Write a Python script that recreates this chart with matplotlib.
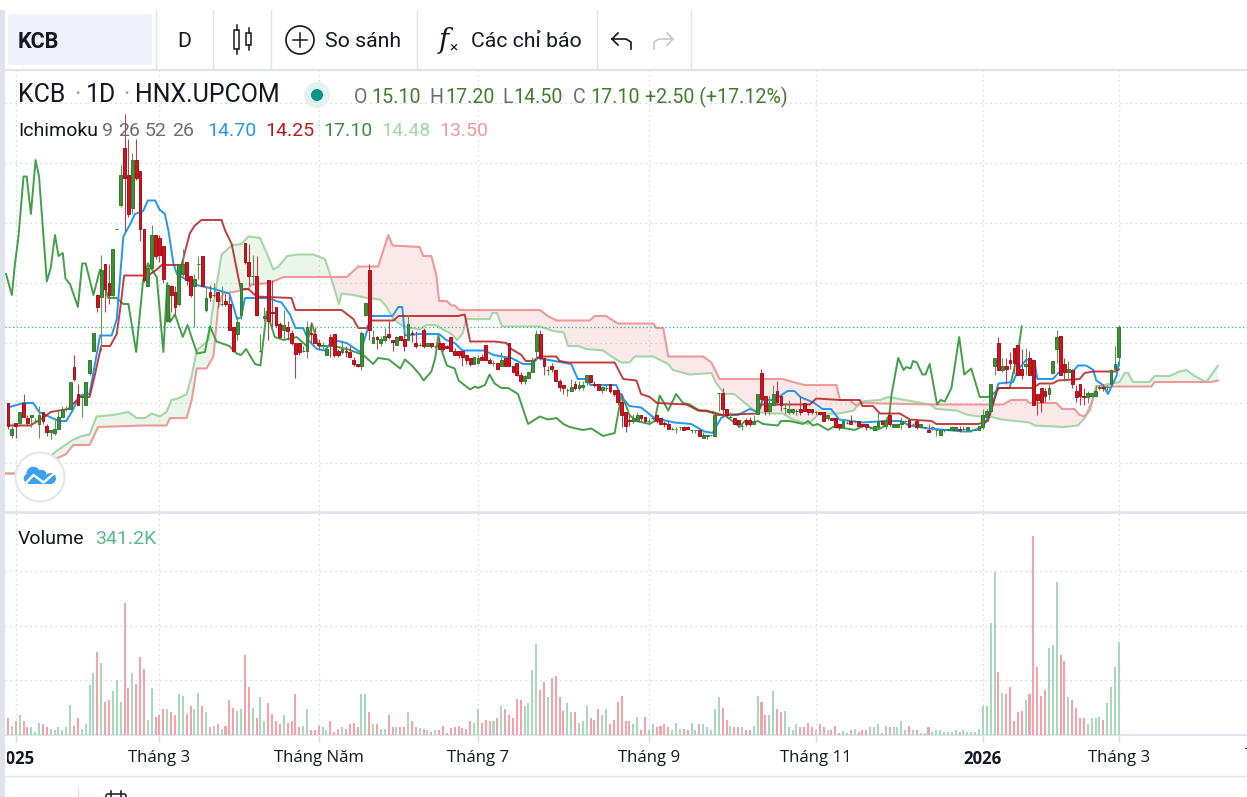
import numpy as np
import matplotlib
matplotlib.use("Agg")
import matplotlib.pyplot as plt
from matplotlib.patches import Circle, FancyBboxPatch, Rectangle

plt.rcParams['font.family'] = ['Roboto', 'DejaVu Sans']

# daily candles (price in thousand dong)
opens = [12.0,9.9,10.7,10.7,12.0,11.0,11.1,10.8,10.6,11.4,
         10.5,10.1,10.0,10.3,11.1,11.6,11.6,14.4,12.6,12.4,
         11.9,14.0,15.5,19.2,19.1,21.3,20.0,19.2,23.6,25.2,
         29.0,27.2,25.0,28.2,27.5,23.6,19.8,21.0,23.2,23.0,
         22.5,17.5,19.8,19.4,18.6,20.6,21.4,20.5,19.8,21.3,
         21.8,18.2,19.4,19.2,19.4,18.6,18.8,18.6,17.1,16.6,
         17.9,22.7,21.4,20.5,20.5,15.5,17.7,20.2,18.1,18.4,
         17.3,16.9,17.1,16.7,16.0,16.0,15.5,15.5,16.7,16.6,
         16.0,15.9,15.2,16.4,16.6,15.5,15.4,15.5,15.4,14.9,
         14.6,14.5,17.9,20.9,16.0,16.4,16.0,16.2,16.6,16.2,
         15.9,16.5,16.3,16.2,16.7,16.0,15.9,16.9,15.8,16.0,
         15.8,16.0,16.0,15.8,16.4,15.5,15.5,15.5,15.2,15.0,
         14.6,14.7,15.1,15.9,14.9,14.7,14.7,14.5,15.0,16.0,
         14.5,14.7,13.9,13.5,13.7,14.1,15.5,16.6,15.0,14.2,
         14.5,14.2,13.5,13.2,12.9,12.8,13.3,13.0,13.1,13.4,
         13.9,13.3,13.3,12.9,13.0,13.3,12.9,12.9,12.1,11.4,
         10.9,10.8,10.8,11.2,11.1,10.8,11.0,11.2,11.0,10.7,
         10.6,10.3,10.3,10.4,10.4,10.4,10.2,10.2,10.2,9.7,
         9.8,9.9,9.8,12.7,12.7,11.6,11.1,11.0,10.9,10.5,
         10.9,10.9,10.6,11.3,14.0,12.5,11.5,11.9,12.8,12.5,
         11.7,11.4,11.4,11.5,11.6,12.0,11.6,11.6,11.4,11.4,
         11.4,11.0,11.0,11.0,10.6,10.4,10.7,10.8,10.8,10.8,
         10.6,10.6,10.4,10.2,10.4,10.8,10.5,11.2,10.4,10.4,
         10.6,10.8,10.9,10.6,10.8,10.4,10.4,10.2,10.4,10.2,
         9.9,10.2,10.2,10.2,10.2,10.3,10.3,10.2,10.2,10.2,
         10.2,10.4,11.1,11.5,14.5,16.0,14.2,14.5,14.9,15.7,
         15.9,14.3,14.5,15.0,14.9,12.6,13.0,12.8,12.6,14.0,
         15.6,16.5,14.6,14.1,14.2,12.8,13.3,12.5,12.4,12.5,
         12.5,13.0,13.1,13.1,13.3,14.3,15.1]
highs = [12.0,10.7,10.7,11.4,12.6,11.2,11.2,11.0,11.8,11.4,
         10.6,10.2,10.9,11.5,11.8,11.8,13.4,15.2,13.3,12.6,
         13.4,14.9,16.7,19.3,21.9,21.3,21.3,22.3,23.6,27.9,
         31.3,29.6,28.7,29.6,27.5,23.6,21.4,23.9,23.2,23.2,
         22.5,20.0,19.9,19.8,21.3,22.3,21.4,20.5,20.6,21.8,
         21.8,19.8,19.9,20.0,19.4,19.8,19.3,19.2,17.1,17.8,
         20.0,22.7,22.6,21.9,21.8,16.6,18.4,20.2,20.2,18.4,
         17.4,18.2,17.5,16.9,16.0,16.0,15.8,17.5,17.4,17.1,
         16.3,16.1,15.8,16.6,16.6,15.6,16.2,15.8,15.8,15.1,
         14.6,16.8,18.7,21.3,16.9,16.5,16.5,17.0,17.5,16.2,
         16.5,16.5,16.7,17.9,16.9,16.8,16.0,17.0,16.0,16.0,
         15.8,16.4,16.0,15.9,16.4,15.7,15.5,15.5,15.2,15.0,
         15.1,15.2,15.3,15.9,15.0,14.9,14.7,15.4,15.1,16.0,
         14.5,14.7,14.1,13.9,14.1,15.1,16.9,16.9,15.0,14.5,
         14.7,14.2,13.6,13.2,13.0,13.6,13.5,13.5,13.5,13.9,
         13.9,13.5,13.3,13.1,13.3,13.3,12.9,12.9,12.6,11.4,
         11.3,11.3,11.4,11.2,11.1,11.0,11.1,11.3,11.0,10.8,
         10.8,10.4,10.4,10.4,10.5,10.5,10.3,10.2,10.2,10.1,
         9.9,9.9,11.2,12.7,13.0,11.6,11.4,11.0,10.9,10.6,
         11.0,11.1,11.2,12.6,14.3,12.5,12.5,13.2,13.5,12.5,
         12.0,12.2,11.6,11.6,12.5,12.0,11.6,11.6,11.5,11.4,
         11.4,11.2,11.0,11.0,10.6,10.9,10.8,11.2,10.8,10.8,
         10.6,10.6,10.5,10.5,11.4,10.9,11.1,11.2,10.6,10.6,
         11.1,10.9,11.0,10.7,10.8,10.6,10.4,10.6,10.5,10.3,
         10.2,10.2,10.3,10.5,10.4,10.5,10.5,10.4,10.2,10.3,
         10.5,11.6,11.6,13.3,15.0,16.4,15.0,15.0,15.4,15.7,
         15.9,15.6,15.7,15.5,14.9,12.6,13.0,13.0,13.3,14.8,
         16.9,16.5,15.0,14.8,14.3,13.2,13.3,13.0,12.8,12.7,
         13.2,13.2,13.3,13.2,14.3,15.8,17.2]
lows = [10.3,9.7,9.7,10.6,11.1,10.5,10.4,10.7,9.7,10.6,
        9.8,9.6,9.9,10.3,11.1,11.5,11.6,13.5,11.9,11.1,
        11.9,13.9,15.5,18.1,15.5,18.1,18.6,19.0,23.6,25.1,
        23.5,24.4,24.6,26.9,22.8,20.1,19.8,21.0,21.6,21.4,
        20.0,17.4,18.1,17.9,18.5,20.5,19.9,19.1,17.1,20.3,
        19.8,18.1,18.8,19.1,18.4,18.5,18.5,16.9,15.4,16.2,
        17.6,21.3,19.8,19.9,17.8,15.4,17.5,16.2,17.1,17.1,
        16.4,16.2,16.2,15.9,13.7,15.2,15.4,15.0,16.0,16.0,
        15.6,15.6,15.2,15.1,15.1,15.1,15.3,15.1,15.1,14.5,
        14.4,14.2,17.8,16.2,16.0,15.6,15.8,16.1,16.3,15.5,
        15.9,16.2,15.5,16.2,16.1,15.7,15.8,15.7,15.8,15.7,
        15.7,15.6,15.5,15.7,15.5,15.2,15.0,14.5,14.6,14.5,
        14.6,14.6,14.9,14.9,14.6,14.5,14.3,14.5,14.5,14.5,
        14.1,13.8,13.3,13.3,13.7,14.1,14.9,14.9,13.9,13.9,
        14.1,13.5,12.8,12.6,12.5,12.8,12.9,12.9,12.9,13.2,
        13.4,13.1,12.9,12.7,12.8,12.7,12.5,11.9,10.4,10.1,
        10.5,10.7,10.8,10.8,10.7,10.7,10.9,10.7,10.6,10.4,
        10.3,10.2,10.0,10.2,10.2,10.3,10.0,10.0,9.8,9.7,
        9.6,9.8,9.8,11.5,11.1,11.0,11.0,10.6,10.4,10.2,
        10.5,10.5,10.6,11.3,12.0,11.2,11.2,11.9,11.9,11.5,
        11.3,11.3,11.3,11.2,11.2,11.5,11.2,11.3,11.2,11.2,
        10.8,10.9,10.9,10.4,10.2,10.4,10.6,10.6,10.7,10.5,
        10.4,10.2,10.3,10.2,10.4,10.6,10.3,10.5,10.4,10.4,
        10.3,10.7,10.4,10.5,10.3,10.4,10.3,10.1,10.2,9.8,
        9.9,10.1,10.2,10.2,10.2,10.1,10.2,10.2,10.1,10.2,
        10.2,10.3,11.1,11.5,13.9,14.2,14.1,13.3,14.3,14.0,
        13.9,13.6,13.9,13.9,11.9,11.2,11.4,12.1,12.2,14.0,
        14.7,13.9,13.5,13.5,13.0,12.1,11.9,11.9,12.0,12.4,
        12.5,12.9,12.8,12.8,13.2,14.1,14.5]
closes = [10.5,10.3,10.5,11.4,11.1,10.7,11.2,10.8,11.2,10.8,
          10.1,10.2,10.3,11.1,11.6,11.6,13.4,13.6,11.9,12.5,
          13.4,14.9,16.7,18.4,20.9,19.6,19.2,22.3,23.6,27.2,
          27.0,24.6,28.2,27.0,23.6,20.2,21.0,23.2,21.8,21.9,
          20.3,19.9,19.2,18.4,21.3,21.3,20.2,19.2,20.3,21.3,
          19.8,19.0,19.1,19.2,18.8,18.6,18.6,16.9,15.5,17.4,
          20.0,21.4,20.5,20.5,17.9,15.5,17.8,17.5,18.0,17.2,
          16.4,17.2,16.8,16.0,15.3,15.4,15.5,17.1,16.6,16.0,
          15.9,15.9,15.6,15.9,15.2,15.2,15.6,15.4,15.1,14.6,
          14.5,16.7,18.7,16.9,16.4,16.3,16.3,16.5,16.4,16.1,
          16.4,16.2,15.8,17.3,16.6,15.8,15.9,15.8,16.0,15.8,
          15.8,15.6,15.6,15.7,15.5,15.2,15.2,15.1,14.9,14.6,
          15.1,15.0,14.9,14.9,14.7,14.7,14.3,14.9,14.5,14.5,
          14.1,13.9,13.5,13.8,14.1,14.9,16.6,15.0,14.5,14.2,
          14.3,13.5,13.1,13.0,12.9,13.1,13.0,13.2,13.2,13.9,
          13.4,13.2,12.9,13.1,13.0,12.8,12.6,12.1,11.2,10.5,
          10.8,11.0,11.2,11.0,10.8,10.8,11.0,10.8,10.6,10.6,
          10.3,10.3,10.3,10.4,10.2,10.3,10.2,10.2,9.8,9.9,
          9.9,9.9,11.2,12.7,11.6,11.2,11.1,10.6,10.6,10.5,
          10.6,10.6,10.8,12.6,12.3,11.5,12.0,12.6,12.1,11.9,
          11.7,11.6,11.6,11.5,11.4,11.5,11.4,11.4,11.4,11.3,
          10.8,11.2,10.9,10.4,10.4,10.8,10.7,10.6,10.8,10.5,
          10.5,10.4,10.4,10.5,10.8,10.6,10.9,10.6,10.6,10.6,
          10.8,10.8,10.4,10.6,10.4,10.6,10.4,10.1,10.4,10.2,
          10.2,10.2,10.3,10.4,10.4,10.2,10.3,10.4,10.2,10.2,
          10.5,11.2,11.5,13.3,15.0,14.2,14.5,14.3,14.7,14.7,
          13.9,13.9,14.6,13.9,11.9,12.2,12.1,12.5,13.0,14.8,
          16.4,13.9,14.1,14.3,13.3,12.4,12.5,12.4,12.7,12.7,
          12.8,13.1,13.0,13.1,14.2,14.6,17.1]

# volume in thousand shares
volumes = [62,33,48,70,51,26,26,11,44,40,
           29,22,18,29,15,26,110,33,59,22,
           40,180,227,301,264,121,125,158,199,121,
           484,169,224,187,286,242,55,169,66,73,
           95,92,84,73,150,143,77,106,92,154,
           106,84,29,33,40,22,33,125,99,88,
           92,290,176,99,59,136,48,114,77,51,
           40,70,44,48,147,26,33,92,18,18,
           33,26,15,51,11,22,26,22,37,44,
           26,147,147,81,40,40,22,22,70,29,
           26,29,29,84,48,26,24,21,17,11,
           15,17,32,7,24,28,32,24,22,51,
           44,95,44,55,48,48,62,106,95,70,
           62,132,125,103,114,235,334,165,194,139,
           209,216,139,88,117,81,81,44,51,106,
           62,55,92,70,92,40,55,121,143,48,
           51,40,66,18,66,15,37,29,33,40,
           26,15,44,22,22,18,44,18,40,37,
           26,18,92,139,99,55,33,29,26,29,
           15,18,33,143,121,73,73,158,92,81,
           88,29,15,37,29,29,44,29,15,37,
           29,18,18,33,7,13,7,15,22,11,
           15,18,26,29,37,7,33,26,29,29,
           48,15,33,18,15,7,7,29,11,18,
           18,11,11,11,18,11,18,11,11,11,
           22,106,103,411,598,231,154,147,176,48,
           81,88,125,147,730,249,143,165,316,327,
           558,290,271,139,128,99,62,59,40,62,
           59,66,55,114,176,246,341.2]

# ichimoku lines, read at their turning points (bar number, price)
tenkan_x = [0,4,6.5,8,13,15,16.4,18.5,21,23.7,26.7,28,29.7,31.4,32.7,34.8,36,37.9,39,40.4,41.3,42.6,43.5,48,53,57,59,60,61,66.6,70.4,72.6,74,76,77.3,79.5,81.6,83.7,87.2,90.6,91.5,93.6,99,100.5,101.5,102.2,106,
            111,112.8,115,117,122.7,125,129.6,132.6,135,136.4,145,146.7,148.9,150,153,156.6,157.9,160,163,166.4,171.6,175.9,179.3,181.4,183.6,184.9,187.9,191,193,194.3,197.3,200.7,202.5,204,207.6,209.7,211.9,214,
            220,226,230,232,237,241.6,246,247.6,251,252.8,255,258.8,260,262.2,264.3,265,269,270.8,274.2,275.5,277.6,279.4,280.2,281.9,283.2,285.4,286]
tenkan_y = [11.7,12.0,12.0,11.4,10.8,10.8,11.4,12.5,12.6,16.5,16.5,17.6,23.1,23.9,24.6,24.8,25.5,25.5,24.9,24.6,23.5,21.3,20.6,19.9,19.6,19.3,17.6,17.7,19.0,19.0,18.7,17.9,17.0,17.0,16.2,15.6,15.5,16.2,16.0,15.4,16.0,17.8,17.8,18.4,18.4,16.5,16.6,
            16.6,16.2,16.0,15.5,15.5,15.2,15.0,14.6,14.6,15.0,14.6,13.6,13.6,13.2,13.2,13.2,12.4,11.8,11.7,11.0,10.7,10.6,10.1,10.0,11.0,11.2,11.2,11.6,11.4,12.2,12.2,12.8,12.8,12.4,12.0,11.6,11.6,10.9,
            10.7,10.8,10.8,10.5,10.3,10.2,10.1,10.1,10.4,11.3,13.3,13.4,14.2,14.9,14.8,13.6,13.6,14.1,14.1,14.5,14.5,14.2,13.5,13.2,12.6,13.8,14.7]
kijun_x = [0,5.7,9,11,15.5,18.5,21,22.4,24,26.3,28,29,29.9,36.1,38.3,39.6,44.7,46.8,48,49.8,55,55.9,57.6,59.9,61.9,64,73,74,85.9,88.9,90.2,92.4,93.4,99.3,100.5,115.9,
           117.6,119,125.3,128.3,129.6,132.2,133.3,135.2,136.9,141.2,142,144.2,156.2,158.4,161.8,163,165.2,167.1,174.7,177.7,179.8,182.8,193.1,194,206.4,208.1,214.2,
           219.3,220,222.7,224.5,229.6,232.2,237.8,239,249.8,252.3,254.9,263.9,265.6,269,270.3,275.9,277.2,279.4,284.9,286]
kijun_y = [10.5,10.5,11.0,11.4,11.6,12.4,12.4,13.9,15.8,15.8,16.6,18.5,20.5,20.5,20.9,21.2,21.2,23.3,23.8,24.2,24.2,23.5,22.6,19.6,19.6,19.1,19.0,18.2,18.2,17.6,17.0,17.0,17.5,17.5,17.8,17.8,
           17.9,16.1,16.1,16.0,15.6,15.2,14.8,14.8,15.1,15.1,14.8,14.7,14.7,13.6,13.5,12.6,12.4,12.0,11.9,11.5,11.5,11.2,11.3,11.9,11.9,12.3,12.2,
           12.2,11.8,11.8,11.3,11.3,10.9,10.8,10.6,10.6,10.8,13.0,13.0,13.3,13.3,13.5,13.6,14.0,14.1,14.1,14.25]
chikou_x = [-0.5,1,1.8,2.7,4,4.8,5.9,7.1,8,9.1,10,11,12.1,13,14.1,14.8,16,18,19.1,20,22,23.7,25.8,28,29.7,31,33,34.8,36,38.3,40,41,41.7,43,45,46.2,48.7,50.7,52,53.7,57,58.9,60,61.3,63.6,65,66.6,68.7,71,74.3,76.9,78.2,80,83.7,87.2,91.5,94,95.3,98,101,102.2,104,106,
            107,109,110,110.8,111.4,113,115,116,119,120.2,121,122.8,124,125.3,127,128.8,131.3,133.9,136.9,139,141.2,143,144.6,148,150.2,153.2,156.2,158,160,161.8,165.2,166.5,167.8,170,172,173.8,175.5,178,181.5,185,188.4,189.7,191.8,193.1,194.4,198.2,199,201.2,204.7,206,207.2,208.5,211.1,212.4,
            215.9,218,220.6,223.6,225.3,226.9,227.5,229.2,230.6,231.3,232.4,233,234,235.4,236.2,237.3,239.2,240.1,241.2,242.9,244.9,246.2,248,250.2,252.3,253.6,255.3,257.9,258.8,260,261]
chikou_y = [20.6,19.2,21.3,23.1,27.1,27.1,24.6,28.2,27.1,23.3,20.1,21.0,23.2,21.8,22.0,20.3,19.9,18.4,21.3,21.3,19.2,20.9,19.0,19.0,18.6,18.6,15.4,20.2,21.3,20.4,15.4,20.0,17.4,17.9,16.4,17.2,15.3,15.4,17.1,16.1,15.8,15.3,15.2,15.6,14.6,14.5,18.1,16.4,16.2,16.4,15.8,17.3,15.8,15.8,15.6,15.2,14.6,15.0,14.9,14.3,14.9,14.5,13.9,
            13.5,14.1,15.0,16.5,15.7,14.5,14.3,13.5,12.9,13.1,13.0,13.2,13.9,13.3,13.0,13.0,12.6,10.6,11.1,10.9,11.0,10.6,10.4,10.2,10.3,9.8,10.0,12.6,11.2,10.8,10.6,10.8,12.5,11.5,12.6,12.0,11.9,11.5,11.4,11.1,10.4,10.8,10.7,10.8,10.6,10.5,10.8,10.8,10.6,10.8,10.5,10.6,10.2,10.4,
            10.3,10.2,10.5,10.2,10.4,11.2,12.6,15.0,14.2,14.4,14.3,14.8,14.7,13.9,13.9,14.6,11.9,12.2,12.1,13.0,16.4,13.9,14.3,12.4,12.4,12.6,13.0,13.0,14.0,15.3,17.1]
span_a_x = [-1,3.5,8,12.5,16.4,19,21,22.8,27,31,33.1,35.3,37,39.1,40.8,42.1,43.8,46,47.3,48.6,51.6,52.9,55,57.6,60.1,61.9,64.9,66.6,68.3,69.6,71.9,74.7,78.6,81.6,82.9,85.2,85.9,88.9,92.4,95.8,97.5,99.2,101.8,106,
            107.8,110,112,114.2,115.6,117,118,124,124.7,125.9,127.2,136.9,140.4,143.1,144.2,146.8,148.9,153.2,155.4,157.9,160,161.4,166.1,170,171.2,175.5,181.1,182.4,184.5,187,189.7,192.7,197,199.5,202,206,209,211.5,214,
            217.8,219.3,224.5,226.6,230.9,237.3,239,244.2,247.2,250.2,252.8,255.8,263,264.3,271.6,275.5,277.2,279.4,280.2,286.2,287.5,288.4,289.6,293.9,295.2,299.1,301.6,303.4,305.5,308.5,311.5]
span_a_y = [7.3,7.3,7.8,8.8,9.5,9.8,9.9,11.1,11.2,11.4,11.0,11.0,11.3,11.1,11.4,12.2,12.3,12.6,13.8,15.5,16.2,18.6,21.9,22.5,22.6,23.1,23.0,22.0,20.9,21.1,21.8,21.9,21.9,21.6,20.6,18.6,19.3,19.2,19.0,18.9,18.4,17.6,17.1,16.9,
            17.2,17.2,16.9,16.6,16.2,16.6,17.6,17.6,18.0,18.0,17.1,17.1,16.8,16.7,15.8,15.8,15.6,15.5,15.1,14.7,14.7,15.1,15.1,14.6,14.2,13.9,14.0,13.3,12.6,12.6,12.0,11.4,11.3,11.3,10.9,10.6,11.3,11.3,11.3,
            11.5,12.1,12.2,12.4,12.2,11.9,11.6,11.5,11.2,11.1,11.1,10.9,10.7,10.5,10.4,10.5,11.0,12.3,13.1,13.4,14.0,14.0,13.4,13.4,13.8,13.8,14.1,14.2,13.8,13.4,14.48]
span_b_x = [-1,3.5,8,12.5,15,16.8,21,23.2,35,40.8,41.7,46,47.3,48.6,51.1,52.9,54.1,55.4,58,61.9,62.7,67.4,70.9,87.2,90.2,95.3,97.9,99,106,
            106.9,109,110.3,111,112.9,114.2,115,116.2,136.9,139,141.2,149.8,151,154,157,166.1,167,168.7,170,179,181.1,183.2,199.5,202.1,205,213.3,214.2,
            216.7,218.5,219.7,237.3,256.2,258.3,262.2,263,269.9,271.4,274.6,275.9,277.2,278.5,280.2,294.4,295.2,309.8,311.5]
span_b_y = [7.3,7.3,7.5,8.3,8.6,9.2,9.2,10.4,10.5,10.5,11.0,11.0,12.2,14.3,14.3,15.1,18.4,19.3,19.4,19.6,19.9,20.0,20.4,20.4,21.1,21.1,23.2,22.5,22.4,
            21.8,21.8,20.5,18.8,18.8,18.5,18.5,18.2,18.2,17.8,17.5,17.5,17.8,17.8,17.3,17.3,17.0,17.0,15.1,15.1,14.7,13.6,13.6,13.4,13.2,13.2,12.2,
            12.2,11.8,12.0,11.9,11.9,12.2,12.2,12.0,12.0,11.6,11.6,11.2,11.1,11.5,13.1,13.1,13.4,13.4,13.5]

price_grid = [8, 12, 16, 20, 24, 28, 32]
volume_grid = [200, 400, 600]
last_price = 17.1
tick_bars = [2, 39, 80, 121, 165, 208, 251, 286]
tick_names = ['2025', 'Tháng 3', 'Tháng Năm', 'Tháng 7', 'Tháng 9', 'Tháng 11', '2026', 'Tháng 3']

UP, DOWN = '#3f8f36', '#d3121f'
UP_EDGE, DOWN_EDGE = '#2e7d32', '#a8101a'
GRID = '#cbcdd2'
LINE = '#e0e3eb'
INK = '#131722'
GREY = '#6a6d78'
AXIS_FONT = ['Open Sans', 'DejaVu Sans']

W, H = 1247, 797
fig = plt.figure(figsize=(W / 100, H / 100), dpi=100, facecolor='white')


def pane(top, bottom):
    return fig.add_axes([5 / W, 1 - bottom / H, (W - 5) / W, (bottom - top) / H])


ax = pane(70, 511)
vol = pane(513, 734.5)
xlim = (-0.77, 319.0)
for a in (ax, vol):
    a.set_xlim(xlim)
    a.set_xticks(tick_bars)
    a.grid(True, color=GRID, linestyle=(0, (1, 3)), linewidth=0.9)
    a.set_axisbelow(True)
    for s in ('top', 'left', 'right', 'bottom'):
        a.spines[s].set_visible(False)
    a.tick_params(axis='y', length=0, labelleft=False)

# price pane
ax.set_ylim(4.8, 34.2)
ax.set_yticks(price_grid)
ax.tick_params(axis='x', length=0, labelbottom=False)

grid_x = np.arange(-1, 311.75, 0.25)
a_line = np.interp(grid_x, span_a_x, span_a_y)
b_line = np.interp(grid_x, span_b_x, span_b_y)
ax.fill_between(grid_x, a_line, b_line, where=a_line >= b_line, interpolate=True,
                color='#a5d6a7', alpha=0.22, linewidth=0)
ax.fill_between(grid_x, a_line, b_line, where=a_line < b_line, interpolate=True,
                color='#ef9a9a', alpha=0.22, linewidth=0)
ax.plot(span_a_x, span_a_y, color='#a5d6a7', lw=1.5)
ax.plot(span_b_x, span_b_y, color='#ef9a9a', lw=1.5)
ax.plot(chikou_x, chikou_y, color='#43a047', lw=1.4)
ax.plot(tenkan_x, tenkan_y, color='#2196f3', lw=1.4)
ax.plot(kijun_x, kijun_y, color='#b71c1c', lw=1.4, alpha=0.85)

ax.axhline(last_price, color='#26b583', linestyle=(0, (1, 2)), linewidth=0.9, zorder=2)

bars = np.arange(len(closes))
o = np.array(opens)
c = np.array(closes)
is_up = c >= o
wick_colors = np.where(is_up, '#5f9a55', '#b8434c')
ax.vlines(bars, lows, highs, colors=wick_colors, linewidth=0.8, zorder=4)
ax.bar(bars, np.abs(c - o), bottom=np.minimum(o, c), width=0.72,
       color=np.where(is_up, UP, DOWN), edgecolor=np.where(is_up, UP_EDGE, DOWN_EDGE),
       linewidth=0.7, zorder=5)

# volume pane
vol.set_ylim(0, 813)
vol.set_yticks(volume_grid)
vol.bar(bars, volumes, width=0.52, color=np.where(is_up, '#a8d9bd', '#f5a3ab'), linewidth=0, zorder=3)
vol.spines['bottom'].set_visible(True)
vol.spines['bottom'].set_color(LINE)
vol.spines['bottom'].set_linewidth(1.4)
vol.set_xticklabels(tick_names, fontfamily=AXIS_FONT, fontsize=12.1, color=INK, fontweight='medium')
for lab in vol.get_xticklabels():
    if lab.get_text() in ('2025', '2026'):
        lab.set_fontweight('bold')
vol.tick_params(axis='x', length=5, width=1, color='#d8dae0', pad=6)

# toolbar, separators and legends, laid out in figure pixels
ui = fig.add_axes([0, 0, 1, 1], zorder=10)
ui.set_xlim(0, W)
ui.set_ylim(H, 0)
ui.axis('off')
ui.patch.set_alpha(0)

ui.add_patch(Rectangle((0, 10), 4.5, H - 10, color=LINE, lw=0))
ui.add_patch(Rectangle((4.5, 745), 2, 22, color='white', lw=0))
ui.plot([5, W], [69.5, 69.5], color=LINE, lw=1.6)
ui.plot([5, W], [512, 512], color=LINE, lw=2)
ui.plot([5, W], [775.5, 775.5], color=LINE, lw=1)
for sx in [156, 213, 271, 417, 597, 691]:
    ui.plot([sx, sx], [10, 68], color=LINE, lw=1)
ui.plot([78, 78], [788, 797], color=LINE, lw=1)
ui.add_patch(FancyBboxPatch((10, 16), 140, 47, boxstyle='round,pad=2,rounding_size=3',
                            facecolor='#f0f3fa', edgecolor='none'))


def label(x, y, s, size=14, color=INK, **kw):
    ui.text(x, y, s, fontsize=size, color=color, va='center', ha=kw.pop('ha', 'left'), **kw)


label(18, 41.5, 'KCB', size=15.5, fontweight='bold')
label(184, 41.5, 'D', size=15.3, ha='center')
label(325, 41.5, 'So sánh', size=15.3)
label(471, 41.5, 'Các chỉ báo', size=15.3)
label(1245, 756, 'Tháng 5', size=12.1, fontfamily=AXIS_FONT, clip_on=True)

# candle icon
ui.add_patch(Rectangle((234, 30), 5, 19, fc='none', ec=INK, lw=1.1))
ui.plot([236.5, 236.5], [25, 30], color=INK, lw=1.1)
ui.plot([236.5, 236.5], [49, 54], color=INK, lw=1.1)
ui.add_patch(Rectangle((246, 33), 5, 12, fc='none', ec=INK, lw=1.1))
ui.plot([248.5, 248.5], [28, 33], color=INK, lw=1.1)
ui.plot([248.5, 248.5], [45, 50], color=INK, lw=1.1)
# compare icon
ui.add_patch(Circle((300, 40), 14, fc='none', ec=INK, lw=1.2))
ui.plot([293, 307], [40, 40], color=INK, lw=1.1)
ui.plot([300, 300], [33, 47], color=INK, lw=1.1)
# fx icon
ui.text(444, 40, 'f', fontsize=20, color=INK, style='italic', ha='center', va='center',
        fontfamily=['DejaVu Serif'])
ui.text(453, 47, '×', fontsize=11, color=INK, ha='center', va='center')
# undo and redo
for x0, sgn, col in ((621, 1, INK), (664, -1, '#c4c6cc')):
    ui.plot([x0 - sgn * 9, x0 - sgn * 2, x0 + sgn * 5, x0 + sgn * 10, x0 + sgn * 10],
            [39, 39, 39, 42, 49], color=col, lw=1.2)
    ui.plot([x0 - sgn * 3, x0 - sgn * 9, x0 - sgn * 3], [33, 39, 45], color=col, lw=1.2)
# calendar icon, cut by the bottom edge
ui.add_patch(FancyBboxPatch((106, 794), 20, 10, boxstyle='round,pad=0,rounding_size=2', fc='none', ec=INK, lw=1.1))
ui.plot([111, 111], [791, 797], color=INK, lw=1.1)
ui.plot([121, 121], [791, 797], color=INK, lw=1.1)

# header legend
HEAD = 17.9
label(18, 95, 'KCB', size=HEAD)
label(74, 95, '·', size=HEAD, color='#a0a3ad')
label(86, 95, '1D', size=HEAD)
label(123, 95, '·', size=HEAD, color='#a0a3ad')
label(135, 95, 'HNX.UPCOM', size=HEAD)
ui.add_patch(Circle((317, 95), 13, fc='#e3f2ee', ec='none'))
ui.add_patch(Circle((317, 95), 6, fc='#009688', ec='none'))

OHLC = '#3f7f2a'
for x0, s, col in [(354, 'O', GREY), (371, '15.10', OHLC), (429, 'H', GREY), (445, '17.20', OHLC),
                   (502, 'L', GREY), (513, '14.50', OHLC), (573, 'C', GREY), (590, '17.10', OHLC),
                   (645, '+2.50 (+17.12%)', OHLC)]:
    label(x0, 97, s, size=14.1, color=col)

label(18, 131, 'Ichimoku')
for x0, s, col in [(102, '9', GREY), (118, '26', GREY), (145, '52', GREY), (172, '26', GREY),
                   (207, '14.70', '#2196f3'), (265, '14.25', '#b71c1c'), (323, '17.10', '#388e3c'),
                   (381, '14.48', '#a5d6a7'), (439, '13.50', '#ef9a9a')]:
    label(x0, 131, s, color=col)
label(18, 538.5, 'Volume')
label(95, 538.5, '341.2K', color='#55b98c')

# logo
ui.add_patch(Circle((40, 477), 24.5, fc='white', ec='#e6e6e6', lw=1.5, zorder=6))
CLOUD = '#3ba1ee'
for cx, cy, r in [(33.3, 473.5, 6.8), (41.5, 475, 5.2), (50.5, 478.5, 5.5), (28.5, 478.5, 4.8)]:
    ui.add_patch(Circle((cx, cy), r, fc=CLOUD, ec='none', zorder=7))
ui.add_patch(Rectangle((28, 477), 23, 7, fc=CLOUD, ec='none', zorder=7))
ui.plot([25, 33.5, 43.5, 54.5], [484, 475, 482.5, 473], color='white', lw=1.7, zorder=8)

fig.savefig('out.png', dpi=100)
